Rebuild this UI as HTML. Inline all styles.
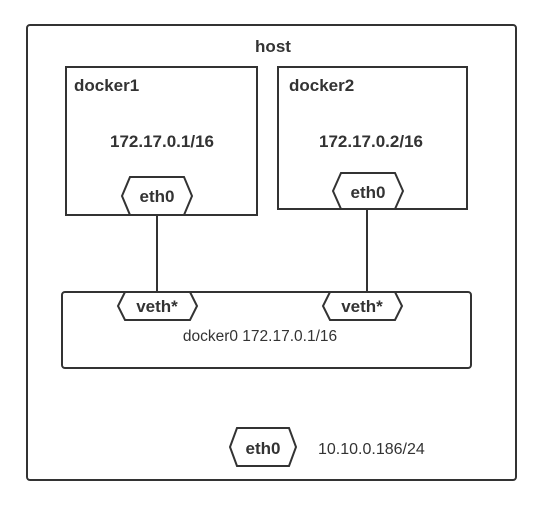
<!DOCTYPE html>
<html><head><style>
body{margin:0;background:#fff;}
svg text{font-family:"Liberation Sans",sans-serif;fill:#333;}
</style></head><body>
<svg width="536" height="510" xmlns="http://www.w3.org/2000/svg">
<g fill="none" stroke="#333" stroke-width="2">
<rect x="27" y="25" width="489" height="455" rx="3"/>
<rect x="66" y="67" width="191" height="148"/>
<rect x="278" y="67" width="189" height="142"/>
<line x1="157" y1="215" x2="157" y2="292"/>
<line x1="367" y1="209" x2="367" y2="292"/>
<rect x="62" y="292" width="409" height="76" rx="3"/>
<polygon fill="#fff" points="130,177 184,177 192,196 184,215 130,215 122,196"/>
<polygon fill="#fff" points="341,173 395,173 403,191 395,209 341,209 333,191"/>
<polygon fill="#fff" points="125,292 190,292 197,306 190,320 125,320 118,306"/>
<polygon fill="#fff" points="330,292 395,292 402,306 395,320 330,320 323,306"/>
<polygon fill="#fff" points="237,428 289,428 296,447 289,466 237,466 230,447"/>
</g>
<g font-weight="bold" font-size="17">
<text x="273" y="52" text-anchor="middle">host</text>
<text x="74" y="91">docker1</text>
<text x="289" y="91">docker2</text>
<text x="162" y="147" text-anchor="middle">172.17.0.1/16</text>
<text x="371" y="147" text-anchor="middle">172.17.0.2/16</text>
<text x="157" y="202" text-anchor="middle">eth0</text>
<text x="368" y="198" text-anchor="middle">eth0</text>
<text x="157" y="312" text-anchor="middle">veth*</text>
<text x="362" y="312" text-anchor="middle">veth*</text>
<text x="263" y="454" text-anchor="middle">eth0</text>
</g>
<text x="260" y="341" text-anchor="middle" font-size="15.5">docker0 172.17.0.1/16</text>
<text x="318" y="454" font-size="16">10.10.0.186/24</text>
</svg>
</body></html>
